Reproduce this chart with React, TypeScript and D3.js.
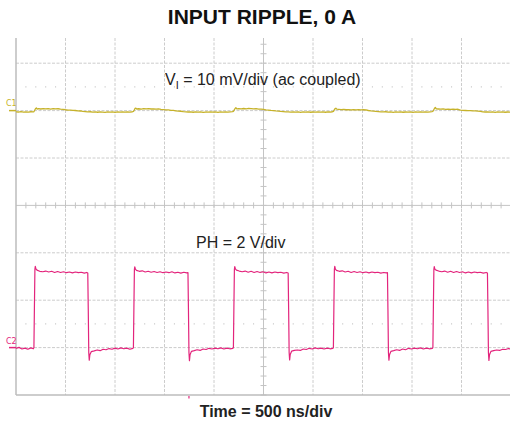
import React from "react";
import * as d3 from "d3";

// ---- data ----
const title = "INPUT RIPPLE, 0 A";
const xLabel = "Time = 500 ns/div";
const c1Label = "10 mV/div (ac coupled)";
const c2Label = "PH = 2 V/div";

// C1: input ripple, mV (ac coupled), time in ns
const c1Data: [number, number][] = [
  [0,-0.26],[25,-0.3],[50,-0.22],[75,-0.34],[100,-0.27],[125,-0.31],[150,-0.24],[172,-0.29],
  [182,-0.2],[190,0.12],[198,0.44],[206,0.56],[214,0.32],[228,0.4],[250,0.34],[275,0.42],[300,0.36],[325,0.41],[350,0.33],[375,0.4],[400,0.35],[425,0.39],[450,0.3],[475,0.26],[500,0.18],[525,0.12],[550,0.1],[575,0.04],[600,0.02],[625,-0.06],[650,-0.08],[675,-0.16],[700,-0.2],[725,-0.27],[750,-0.24],[775,-0.33],[800,-0.28],[825,-0.35],[850,-0.27],[875,-0.31],[900,-0.36],[925,-0.26],[950,-0.32],[975,-0.29],[1000,-0.36],[1025,-0.27],[1050,-0.33],[1075,-0.25],[1100,-0.34],[1125,-0.28],[1150,-0.31],[1177,-0.24],
  [1187,-0.18],[1195,0.14],[1203,0.46],[1211,0.52],[1220,0.34],[1240,0.39],[1265,0.33],[1290,0.42],[1315,0.35],[1340,0.4],[1365,0.34],[1390,0.38],[1415,0.32],[1440,0.36],[1465,0.28],[1490,0.22],[1515,0.16],[1540,0.14],[1565,0.06],[1590,0.03],[1615,-0.04],[1640,-0.1],[1665,-0.14],[1690,-0.22],[1715,-0.25],[1740,-0.3],[1765,-0.26],[1790,-0.35],[1815,-0.29],[1840,-0.32],[1865,-0.27],[1890,-0.37],[1915,-0.3],[1940,-0.33],[1965,-0.26],[1990,-0.34],[2015,-0.29],[2040,-0.36],[2065,-0.28],[2090,-0.32],[2115,-0.25],[2140,-0.33],[2165,-0.27],[2187,-0.23],
  [2197,-0.15],[2205,0.16],[2213,0.45],[2221,0.6],[2230,0.38],[2250,0.42],[2275,0.35],[2300,0.44],[2325,0.37],[2350,0.45],[2375,0.4],[2400,0.36],[2425,0.41],[2450,0.33],[2475,0.3],[2500,0.24],[2525,0.15],[2550,0.12],[2575,0.05],[2600,0.0],[2625,-0.07],[2650,-0.1],[2675,-0.18],[2700,-0.22],[2725,-0.28],[2750,-0.25],[2775,-0.34],[2800,-0.28],[2825,-0.32],[2850,-0.26],[2875,-0.36],[2900,-0.29],[2925,-0.33],[2950,-0.27],[2975,-0.35],[3000,-0.3],[3025,-0.34],[3050,-0.26],[3075,-0.32],[3100,-0.28],[3125,-0.35],[3150,-0.27],[3175,-0.3],[3197,-0.24],
  [3207,-0.16],[3215,0.14],[3223,0.42],[3231,0.5],[3240,0.3],[3260,0.26],[3285,0.2],[3310,0.25],[3335,0.18],[3360,0.22],[3385,0.16],[3410,0.21],[3435,0.17],[3460,0.2],[3485,0.15],[3510,0.18],[3535,0.13],[3560,0.02],[3585,-0.06],[3610,-0.1],[3635,-0.16],[3660,-0.2],[3685,-0.25],[3710,-0.28],[3735,-0.24],[3760,-0.33],[3785,-0.28],[3810,-0.36],[3835,-0.29],[3860,-0.32],[3885,-0.27],[3910,-0.35],[3935,-0.3],[3960,-0.33],[3985,-0.26],[4010,-0.36],[4035,-0.29],[4060,-0.31],[4085,-0.26],[4110,-0.34],[4135,-0.28],[4160,-0.32],[4185,-0.25],[4202,-0.22],
  [4212,-0.14],[4220,0.18],[4228,0.5],[4236,0.66],[4245,0.38],[4265,0.34],[4290,0.3],[4315,0.36],[4340,0.28],[4365,0.33],[4390,0.27],[4415,0.31],[4440,0.25],[4465,0.28],[4490,0.12],[4515,0.06],[4540,0.02],[4565,-0.02],[4590,0.0],[4615,-0.06],[4640,-0.04],[4665,-0.1],[4690,-0.18],[4715,-0.26],[4740,-0.3],[4765,-0.25],[4790,-0.34],[4815,-0.28],[4840,-0.36],[4865,-0.29],[4890,-0.33],[4915,-0.26],[4940,-0.35],[4965,-0.3],[4990,-0.32],[5000,-0.28]
];

// C2: PH switch node, V, time in ns
const c2Data: [number, number][] = [
  [0,-0.03],[30,0.01],[60,-0.06],[90,-0.02],[120,-0.07],[150,-0.01],[175,-0.05],
  [181,0.0],[186,1.7],[191,3.3],[195,3.43],[201,3.32],[212,3.27],[240,3.22],[270,3.2],[300,3.23],[330,3.19],[360,3.22],[390,3.17],[420,3.21],[450,3.17],[480,3.2],[510,3.16],[540,3.19],[570,3.15],[600,3.19],[630,3.16],[660,3.18],[690,3.14],[715,3.17],[725,3.15],
  [730,1.6],[735,-0.2],[740,-0.53],[746,-0.3],[760,-0.17],[790,-0.14],[820,-0.1],[850,-0.13],[880,-0.07],[910,-0.09],[940,-0.04],[970,-0.07],[1000,-0.02],[1030,-0.06],[1060,-0.01],[1090,-0.05],[1120,-0.02],[1150,-0.07],[1180,-0.03],
  [1186,0.0],[1191,1.7],[1196,3.3],[1200,3.41],[1206,3.31],[1217,3.26],[1245,3.22],[1275,3.24],[1305,3.19],[1335,3.22],[1365,3.18],[1395,3.21],[1425,3.17],[1455,3.2],[1485,3.16],[1515,3.19],[1545,3.16],[1575,3.2],[1605,3.15],[1635,3.18],[1665,3.14],[1695,3.18],[1725,3.15],[1737,3.16],
  [1742,1.6],[1747,-0.2],[1752,-0.55],[1758,-0.3],[1772,-0.16],[1800,-0.13],[1830,-0.09],[1860,-0.12],[1890,-0.06],[1920,-0.08],[1950,-0.03],[1980,-0.06],[2010,-0.02],[2040,-0.05],[2070,-0.01],[2100,-0.06],[2130,-0.02],[2160,-0.05],[2190,-0.03],
  [2196,0.0],[2201,1.7],[2206,3.3],[2210,3.42],[2216,3.32],[2227,3.27],[2255,3.23],[2285,3.2],[2315,3.23],[2345,3.18],[2375,3.22],[2405,3.17],[2435,3.21],[2465,3.17],[2495,3.2],[2525,3.15],[2555,3.19],[2585,3.15],[2615,3.19],[2645,3.16],[2675,3.18],[2705,3.14],[2735,3.17],[2749,3.15],
  [2754,1.6],[2759,-0.2],[2764,-0.52],[2770,-0.29],[2784,-0.15],[2812,-0.12],[2842,-0.1],[2872,-0.12],[2902,-0.06],[2932,-0.08],[2962,-0.03],[2992,-0.06],[3022,-0.01],[3052,-0.05],[3082,-0.02],[3112,-0.06],[3142,-0.02],[3172,-0.05],[3200,-0.03],
  [3206,0.0],[3211,1.7],[3216,3.3],[3220,3.43],[3226,3.31],[3237,3.26],[3265,3.22],[3295,3.24],[3325,3.19],[3355,3.22],[3385,3.17],[3415,3.21],[3445,3.17],[3475,3.2],[3505,3.16],[3535,3.19],[3565,3.15],[3595,3.19],[3625,3.16],[3655,3.18],[3685,3.14],[3715,3.17],[3740,3.15],[3752,3.16],
  [3757,1.6],[3762,-0.2],[3767,-0.53],[3773,-0.3],[3787,-0.16],[3815,-0.13],[3845,-0.09],[3875,-0.12],[3905,-0.06],[3935,-0.09],[3965,-0.03],[3995,-0.06],[4025,-0.02],[4055,-0.05],[4085,-0.01],[4115,-0.06],[4145,-0.02],[4175,-0.05],[4205,-0.03],
  [4211,0.0],[4216,1.7],[4221,3.3],[4225,3.42],[4231,3.31],[4242,3.27],[4270,3.23],[4300,3.2],[4330,3.23],[4360,3.18],[4390,3.22],[4420,3.17],[4450,3.21],[4480,3.17],[4510,3.2],[4540,3.15],[4570,3.19],[4600,3.15],[4630,3.19],[4660,3.16],[4690,3.18],[4720,3.14],[4750,3.17],[4762,3.15],
  [4767,1.6],[4772,-0.2],[4777,-0.54],[4783,-0.3],[4797,-0.16],[4825,-0.13],[4855,-0.1],[4885,-0.12],[4915,-0.07],[4945,-0.08],[4975,-0.04],[5000,-0.06]
];

const triggerTime = 1747; // ns
const xDivisions = d3.range(0, 11);
const yDivisions = d3.range(-4, 5);

// ---- layout ----
const W = 510, H = 423;
const plotLeft = 16, plotRight = 511, plotTop = 38, plotBottom = 395;
const C1_COLOR = "#c6b22a";
const C2_COLOR = "#e3247c";
const GRID = "#cccccc";

export default function App() {
  const x = d3.scaleLinear().domain([0, 5000]).range([plotLeft, plotRight]);
  const xDiv = d3.scaleLinear().domain([0, 10]).range([plotLeft, plotRight]);
  const yDiv = d3.scaleLinear().domain([-4, 4]).range([plotBottom, plotBottom - 8 * 47.4]);
  const yC1 = (v: number) => yDiv(2 + v / 10);
  const yC2 = (v: number) => yDiv(-3 + v / 2);

  const lineC1 = d3.line<[number, number]>().x(d => x(d[0])).y(d => yC1(d[1]));
  const lineC2 = d3.line<[number, number]>().x(d => x(d[0])).y(d => yC2(d[1]));

  const cx = xDiv(5);
  const cy = yDiv(0);
  const minorX = d3.range(1, 50).map(i => xDiv(i / 5));
  const minorY = d3.range(-20, 21).map(i => yDiv(i / 5)).filter(v => v >= plotTop && v <= plotBottom);
  const dotRows = [2.5, -2.5].map(v => yDiv(v));

  return (
    <svg width={W} height={H} style={{ position: "absolute", left: 0, top: 0, background: "#fff" }}
      fontFamily="'Liberation Sans', Arial, Helvetica, sans-serif">
      <defs>
        <clipPath id="plotclip">
          <rect x={plotLeft} y={plotTop} width={plotRight - plotLeft} height={plotBottom - plotTop} />
        </clipPath>
      </defs>
      <text x={262} y={24} textAnchor="middle" fontSize={21} fontWeight="bold" fill="#111">{title}</text>

      {/* dashed grid */}
      {xDivisions.filter(i => i !== 0 && i !== 5).map(i => (
        <line key={"vx" + i} x1={xDiv(i)} x2={xDiv(i)} y1={plotTop} y2={plotBottom}
          stroke={GRID} strokeWidth={1} strokeDasharray="3,1.5" />
      ))}
      {yDivisions.filter(j => j !== 0 && j !== -4 && yDiv(j) > plotTop).map(j => (
        <line key={"hy" + j} x1={plotLeft} x2={plotRight} y1={yDiv(j)} y2={yDiv(j)}
          stroke={GRID} strokeWidth={1} strokeDasharray="3,1.5" />
      ))}
      {/* dotted rows */}
      {dotRows.map((yy, k) => minorX.filter((_, i) => (i + 1) % 5 !== 0).map((xx, i) => (
        <rect key={"d" + k + "-" + i} x={xx - 0.5} y={yy - 0.5} width={1} height={1} fill="#b5b5b5" />
      )))}
      {/* center crosshair */}
      <line x1={plotLeft} x2={plotRight} y1={cy} y2={cy} stroke="#c4c4c4" strokeWidth={1} />
      <line x1={cx} x2={cx} y1={plotTop} y2={plotBottom} stroke="#c4c4c4" strokeWidth={1} />
      {minorX.map((xx, i) => (
        <line key={"mx" + i} x1={xx} x2={xx} y1={cy - 3} y2={cy + 3} stroke="#c4c4c4" strokeWidth={1} />
      ))}
      {minorY.map((yy, i) => (
        <line key={"my" + i} x1={cx - 3} x2={cx + 3} y1={yy} y2={yy} stroke="#c4c4c4" strokeWidth={1} />
      ))}
      {/* frame */}
      <line x1={plotLeft} x2={plotLeft} y1={plotTop} y2={plotBottom} stroke="#bdbdbd" strokeWidth={1.5} />
      <line x1={plotLeft} x2={plotRight} y1={plotBottom} y2={plotBottom} stroke="#bdbdbd" strokeWidth={1.5} />

      {/* traces */}
      <g clipPath="url(#plotclip)">
        <path d={lineC1(c1Data) || ""} fill="none" stroke={C1_COLOR} strokeWidth={1.3} strokeLinejoin="round" />
        <path d={lineC2(c2Data) || ""} fill="none" stroke={C2_COLOR} strokeWidth={1.2} strokeLinejoin="round" />
      </g>

      {/* channel markers */}
      <text x={6} y={106} fontSize={8} fill={C1_COLOR} fontFamily="'DejaVu Sans', sans-serif">C1</text>
      <line x1={9} x2={plotLeft} y1={yC1(0)} y2={yC1(0)} stroke={C1_COLOR} strokeWidth={1.5} />
      <text x={6} y={344} fontSize={8} fill={C2_COLOR} fontFamily="'DejaVu Sans', sans-serif">C2</text>
      <line x1={9} x2={plotLeft} y1={yC2(0)} y2={yC2(0)} stroke={C2_COLOR} strokeWidth={1.5} />
      {/* trigger marker */}
      <line x1={x(triggerTime)} x2={x(triggerTime)} y1={plotBottom + 1} y2={plotBottom + 3.5} stroke={C2_COLOR} strokeWidth={1.2} />

      {/* annotations */}
      <text x={165} y={85} fontSize={16} fill="#222">
        V<tspan fontSize={11} dy={4}>I</tspan><tspan dy={-4}>{" = " + c1Label}</tspan>
      </text>
      <text x={196} y={248} fontSize={16} fill="#222">{c2Label}</text>

      <text x={266} y={417} textAnchor="middle" fontSize={16} fontWeight="bold" fill="#222">{xLabel}</text>
    </svg>
  );
}
